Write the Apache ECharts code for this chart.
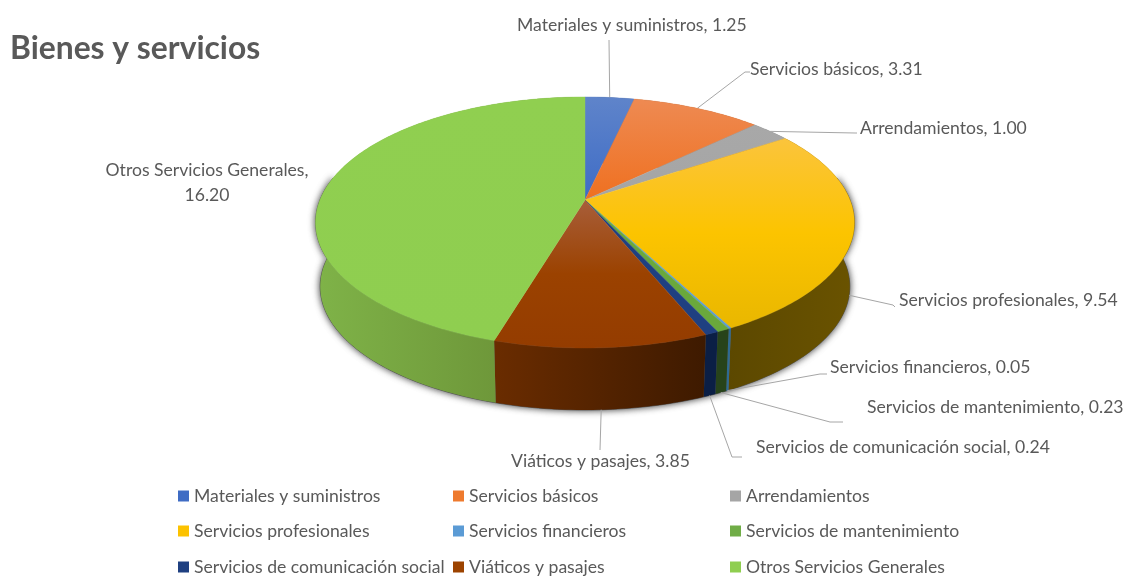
<!DOCTYPE html>
<html>
<head>
<meta charset="utf-8">
<title>Bienes y servicios</title>
<style>
html,body{margin:0;padding:0;background:#fff;}
#chart{width:1130px;height:577px;filter:blur(0.5px);}
</style>
<script src="https://cdn.jsdelivr.net/npm/echarts@6/dist/echarts.min.js"></script>
</head>
<body>
<div id="chart"></div>
<script>
var categories = ['Materiales y suministros','Servicios básicos','Arrendamientos','Servicios profesionales','Servicios financieros','Servicios de mantenimiento','Servicios de comunicación social','Viáticos y pasajes','Otros Servicios Generales'];
var values = [1.25,3.31,1.00,9.54,0.05,0.23,0.24,3.85,16.20];

// colores
var legendColors = ['#3f6cc4','#ee7a2e','#a5a5a5','#fcc200','#5b9bd5','#70ad47','#1f4081','#9c4300','#8fce50'];
var topColors = [
	['#5f84ca','#3e6cc6'],
	['#ee8a52','#ef7020'],
	['#a8a8a8','#a5a5a5'],
	['#fbc43c','#fcc400','#e9b700'],
	['#5b9bd5','#5b9bd5'],
	['#6aa83c','#6aa83c'],
	['#1f4081','#1f4081'],
	['#a85e3a','#9b4200','#943c00'],
	['#90cf50','#8fce50']
];
var sideColors = [
	['#2a4a85','#2a4a85'],['#a04f1a','#a04f1a'],['#6f6f6f','#6f6f6f'],
	['#5c4800','#6a5300'],['#2e6a93','#2e6a93'],['#27431a','#27431a'],
	['#0b1f45','#0b1f45'],['#6a2c00','#3e1a00'],['#7fb348','#668a33']
];

// etiquetas: x, y del texto, codo de la linea, y borde de donde sale
var labelX = [517,750,860,899,830,867,756,511,207];
var labelY = [25,69,128,300,367,407,447,461,183];
var elbowA = [[609,40],[745,72],[855,133],[893,305],[820,374],[830,422],[732,457],[600,450],null];
var elbowB = [null,[750,72],[857,133],[895,307],[827,374],[843,422],[742,457],null,null];
var labelOnWall = [false,false,false,true,true,true,true,true,false];

// geometria del pastel en perspectiva
var cx = 585, cy = 200, rx = 265, ry = 121.5, persp = 0.179;
var wallDy = 64.5, wallScale = 0.983;
var total = 0, starts = [];
for(var n=0;n<values.length;n++){
	starts.push(total);
	total += values[n];
}

function rim(frac, bottom){
	var a = frac*Math.PI*2;
	var u = Math.sin(a), v = -Math.cos(a);
	var w = 1 - persp*v;
	var s = bottom ? wallScale : 1;
	return [cx + s*rx*u/w, cy + (bottom ? wallDy : 0) + s*ry*v/w];
}
function arc(f0, f1, bottom){
	var pts = [];
	var steps = Math.max(2, Math.ceil((f1-f0)*360));
	for(var k=0;k<=steps;k++){
		pts.push(rim(f0+(f1-f0)*k/steps, bottom));
	}
	return pts;
}
function grad(stops){
	var list = [];
	for(var k=0;k<stops.length;k++){
		list.push({offset: k/(stops.length-1), color: stops[k]});
	}
	return {type:'linear', x:0, y:0, x2:0, y2:1, colorStops:list};
}

function renderSlice(i){
	return function(params, api){
		var f0 = starts[i]/total;
		var f1 = f0 + api.value(0)/total;
		var children = [];
		var topRim = arc(f0,f1,false);
		var wall = topRim.concat(arc(f0,f1,true).reverse());
		children.push({
			type:'polygon', z2:1, silent:true,
			shape:{points:wall},
			style:{fill:{type:'linear',x:0,y:0,x2:1,y2:0,colorStops:[{offset:0,color:sideColors[i][0]},{offset:1,color:sideColors[i][1]}]}}
		});
		children.push({
			type:'polygon', z2:10, silent:true,
			shape:{points:[[cx,cy]].concat(topRim)},
			style:{fill:grad(topColors[i]), stroke:grad(topColors[i]), lineWidth:0.4}
		});
		if(elbowA[i]){
			var pts = [rim((f0+f1)/2, labelOnWall[i]), elbowA[i]];
			if(elbowB[i]) pts.push(elbowB[i]);
			children.push({
				type:'polyline', z2:5, silent:true,
				shape:{points:pts},
				style:{fill:null, stroke:'#a6a6a6', lineWidth:1}
			});
		}
		var isWrapped = i == 8;
		children.push({
			type:'text', z2:20, silent:true,
			style:{
				x:labelX[i], y:labelY[i],
				text: categories[i] + (isWrapped ? ',\n' : ', ') + values[i].toFixed(2),
				fill:'#595959', fontFamily:'Lato', fontSize:17.6, lineHeight:25,
				align: isWrapped ? 'center' : 'left', verticalAlign:'middle'
			}
		});
		return {type:'group', children:children};
	};
}

// sombra bajo el borde frontal del pastel
function renderShadow(){
	var front = arc(0.22,0.78,false).concat(arc(0.22,0.78,true).reverse());
	return {
		type:'polygon', silent:true,
		shape:{points:front},
		style:{fill:'#666', stroke:'rgba(70,70,70,0.7)', lineWidth:1, shadowColor:'rgba(0,0,0,0.8)', shadowBlur:7}
	};
}

var legendLeft = [178,453,730];
var legendTop = [487,522,558];
var legends = [], series = [];
series.push({type:'custom', name:'sombra', coordinateSystem:'none', z:1, silent:true, data:[[0]], renderItem:renderShadow});
for(var i=0;i<categories.length;i++){
	legends.push({
		data:[categories[i]],
		left:legendLeft[i%3], top:legendTop[Math.floor(i/3)],
		padding:0, itemWidth:11, itemHeight:11, itemGap:4,
		selectedMode:false, icon:'rect',
		textStyle:{color:'#595959', fontFamily:'Lato', fontSize:17.6, padding:[0,0,0,0]}
	});
	series.push({
		type:'custom', name:categories[i], coordinateSystem:'none', z:2, silent:true,
		itemStyle:{color:legendColors[i]},
		data:[[values[i]]],
		renderItem:renderSlice(i)
	});
}

var chart = echarts.init(document.getElementById('chart'));
chart.setOption({
	backgroundColor:'#fff',
	animation:false,
	title:{
		text:'Bienes y servicios', left:10, top:33, padding:0,
		textStyle:{color:'#595959', fontFamily:'Lato', fontWeight:'bold', fontSize:31.8}
	},
	legend:legends,
	series:series
});
</script>
</body>
</html>
